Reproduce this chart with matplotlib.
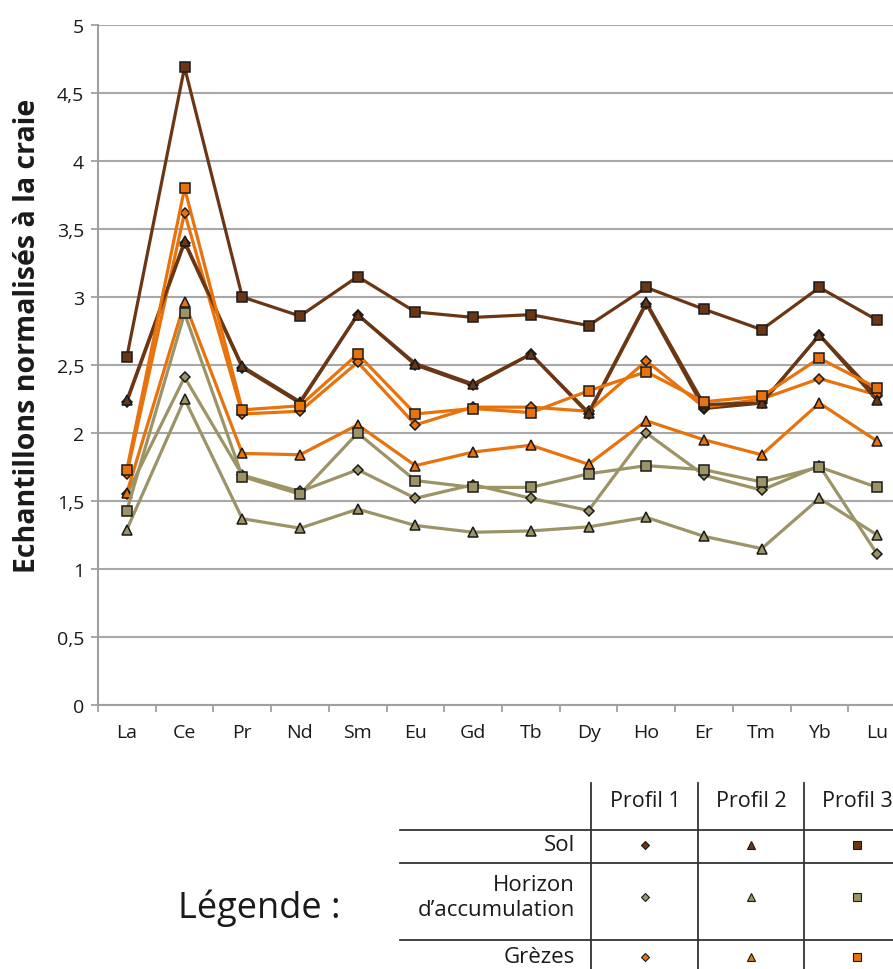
import matplotlib
matplotlib.use("Agg")
import matplotlib.pyplot as plt
import numpy as np

elements = ["La", "Ce", "Pr", "Nd", "Sm", "Eu", "Gd", "Tb", "Dy", "Ho", "Er", "Tm", "Yb", "Lu"]

sol_p1 = [2.23, 3.40, 2.48, 2.22, 2.87, 2.50, 2.35, 2.58, 2.14, 2.95, 2.18, 2.22, 2.72, 2.27]
sol_p2 = [2.24, 3.41, 2.49, 2.23, 2.87, 2.51, 2.36, 2.58, 2.15, 2.96, 2.21, 2.22, 2.72, 2.24]
sol_p3 = [2.56, 4.69, 3.00, 2.86, 3.15, 2.89, 2.85, 2.87, 2.79, 3.07, 2.91, 2.76, 3.07, 2.83]

hor_p1 = [1.55, 2.41, 1.69, 1.57, 1.73, 1.52, 1.62, 1.52, 1.43, 2.00, 1.69, 1.58, 1.76, 1.11]
hor_p2 = [1.29, 2.25, 1.37, 1.30, 1.44, 1.32, 1.27, 1.28, 1.31, 1.38, 1.24, 1.15, 1.52, 1.25]
hor_p3 = [1.43, 2.88, 1.68, 1.55, 2.00, 1.65, 1.60, 1.60, 1.70, 1.76, 1.73, 1.64, 1.75, 1.60]

gre_p1 = [1.70, 3.62, 2.14, 2.16, 2.52, 2.06, 2.19, 2.19, 2.16, 2.53, 2.19, 2.25, 2.40, 2.28]
gre_p2 = [1.56, 2.96, 1.85, 1.84, 2.06, 1.76, 1.86, 1.91, 1.77, 2.09, 1.95, 1.84, 2.22, 1.94]
gre_p3 = [1.73, 3.80, 2.17, 2.20, 2.58, 2.14, 2.18, 2.15, 2.31, 2.45, 2.23, 2.27, 2.55, 2.33]

y_ticks = [0, 0.5, 1, 1.5, 2, 2.5, 3, 3.5, 4, 4.5, 5]
y_ticklabels = ["0", "0,5", "1", "1,5", "2", "2,5", "3", "3,5", "4", "4,5", "5"]

row_labels = ["Sol", "Horizon\nd\u2019accumulation", "Gr\u00e8zes"]
col_labels = ["Profil 1", "Profil 2", "Profil 3"]

BROWN = "#6b3614"
ORANGE = "#e8720c"
OLIVE = "#9c9466"
colors = [BROWN, OLIVE, ORANGE]
markers = ["D", "^", "s"]
msizes = [5.5, 7.5, 7.5]

series = [
    (sol_p1, 0, 0), (hor_p1, 1, 0), (gre_p1, 2, 0),
    (sol_p2, 0, 1), (hor_p2, 1, 1), (gre_p2, 2, 1),
    (sol_p3, 0, 2), (hor_p3, 1, 2), (gre_p3, 2, 2),
]

plt.rcParams['font.family'] = ['Open Sans', 'DejaVu Sans']

W, H = 893, 970
fig = plt.figure(figsize=(W / 100, H / 100), dpi=100)

left_px, right_px, top_px, bot_px = 98, 906, 26, 706
ax = fig.add_axes([left_px / W, 1 - bot_px / H, (right_px - left_px) / W, (bot_px - top_px) / H])

x = np.arange(len(elements))
for vals, ri, ci in series:
    ax.plot(x, vals, color=colors[ri], lw=2.3, marker=markers[ci], ms=msizes[ci],
            markerfacecolor=colors[ri], markeredgecolor="#1a1a1a", markeredgewidth=1.1,
            zorder=3, clip_on=False)

ax.set_xlim(-0.5, len(elements) - 0.5)
ax.set_ylim(0, 5)
ax.set_yticks(y_ticks)
ax.set_yticklabels(y_ticklabels)
ax.set_xticks(x)
ax.set_xticklabels(elements)
ax.set_xticks(np.arange(-0.5, len(elements), 1.0), minor=True)
ax.tick_params(axis="x", which="major", length=0, pad=13, labelsize=14, colors="#1a1a1a")
ax.tick_params(axis="x", which="minor", length=5, width=1.3, color="#a0a0a0")
ax.tick_params(axis="y", length=5, width=1.3, color="#a0a0a0", pad=5, labelsize=14, labelcolor="#1a1a1a")
ax.grid(axis="y", color="#a8a8a8", lw=1.5, zorder=0)
for s in ["top", "right"]:
    ax.spines[s].set_visible(False)
ax.spines["left"].set_color("#a0a0a0")
ax.spines["left"].set_linewidth(1.5)
ax.spines["bottom"].set_color("#a0a0a0")
ax.spines["bottom"].set_linewidth(1.5)
ax.set_ylabel("Echantillons normalisés à la craie", fontsize=20.5, fontweight="bold",
              color="#1a1a1a", va="center")
ax.yaxis.set_label_coords((28 - left_px) / (right_px - left_px), (bot_px - 336) / (bot_px - top_px))

ov = fig.add_axes([0, 0, 1, 1], facecolor="none")
ov.set_xlim(0, W)
ov.set_ylim(H, 0)
ov.axis("off")

lc = "#333333"
for yy in [831, 864, 941]:
    ov.plot([400, W], [yy, yy], color=lc, lw=1.3)
for xx in [591, 698, 804]:
    ov.plot([xx, xx], [784, H], color=lc, lw=1.3)

col_x = [645, 751, 857]
for cx, lab in zip(col_x, col_labels):
    ov.text(cx, 802, lab, ha="center", va="center", fontsize=15.5, color="#1a1a1a")

row_y = [846, 898, 958]
for ry, lab in zip(row_y, row_labels):
    ov.text(575, ry, lab, ha="right", va="center", fontsize=16, color="#1a1a1a",
            linespacing=1.2)

for ri, ry in enumerate(row_y):
    for ci, cx in enumerate(col_x):
        ov.plot([cx], [ry], marker=markers[ci], ms=msizes[ci] * 0.68, color=colors[ri],
                markeredgecolor="#1a1a1a", markeredgewidth=0.8)

ov.text(340, 908, "Légende :", ha="right", va="center", fontsize=26, color="#1a1a1a")

fig.savefig("out.png", dpi=100)
